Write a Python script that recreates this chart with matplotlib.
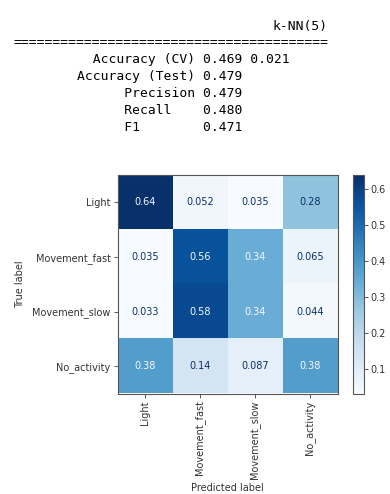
import matplotlib
matplotlib.use("Agg")
import matplotlib.pyplot as plt
import numpy as np

# ---- summary metrics printed above the matrix ----
model_name = "k-NN(5)"
metric_labels = ["  Accuracy (CV)", "Accuracy (Test)", "      Precision",
                 "      Recall   ", "      F1       "]
metric_values = [[0.469, 0.021], [0.479], [0.479], [0.480], [0.471]]

# ---- normalised confusion matrix ----
classes = ["Light", "Movement_fast", "Movement_slow", "No_activity"]
cm = np.array([
    [0.64, 0.052, 0.035, 0.28],
    [0.035, 0.56, 0.34, 0.065],
    [0.033, 0.58, 0.34, 0.044],
    [0.38, 0.14, 0.087, 0.38],
])

W, H = 390, 494
fig = plt.figure(figsize=(W / 100, H / 100), dpi=100)


def fx(px):
    return px / W


def fy(py):
    return 1 - py / H


# ---- monospace text block ----
mono = dict(family="DejaVu Sans Mono", fontsize=9.4, color="black", va="baseline")
fig.text(fx(272), fy(30), model_name, ha="left", **mono)
fig.text(fx(14), fy(46), "=" * 40, ha="left", **mono)
for i, (lab, vals) in enumerate(zip(metric_labels, metric_values)):
    line = lab + " " + " ".join(f"{v:.3f}" for v in vals)
    fig.text(fx(77), fy(63 + 17 * i), line, ha="left", **mono)

# ---- confusion matrix heatmap ----
left, right, top, bottom = 117.5, 337.5, 175, 393.5
ax = fig.add_axes([fx(left), fy(bottom), fx(right - left), (bottom - top) / H])
cmap = plt.get_cmap("Blues")
im = ax.imshow(cm, cmap=cmap, aspect="auto", interpolation="nearest")

thresh = (cm.max() + cm.min()) / 2
for i in range(cm.shape[0]):
    for j in range(cm.shape[1]):
        col = cmap(0.0) if cm[i, j] > thresh else cmap(1.0)
        ax.text(j, i, f"{cm[i, j]:.2g}", ha="center", va="center",
                color=col, fontsize=7)

lab_col = "#333333"
ax.set_xticks(range(len(classes)))
ax.set_yticks(range(len(classes)))
ax.set_xticklabels(classes, rotation=90, fontsize=7, color=lab_col)
ax.set_yticklabels(classes, fontsize=7, color=lab_col)
ax.tick_params(length=3, width=0.7, color="#555555", pad=2)
for sp in ax.spines.values():
    sp.set_color("#555555")
    sp.set_linewidth(0.8)

fig.text(fx(20), fy(284), "True label", rotation=90, ha="center", va="center",
         fontsize=7, color=lab_col)
fig.text(fx(227.5), fy(488), "Predicted label", ha="center", va="center",
         fontsize=7, color=lab_col)

# ---- colorbar ----
cax = fig.add_axes([fx(353), fy(bottom), fx(10.5), (bottom - top) / H])
cb = fig.colorbar(im, cax=cax)
cb.set_ticks([0.1, 0.2, 0.3, 0.4, 0.5, 0.6])
cb.ax.tick_params(labelsize=7, length=3, width=0.7, color="#555555",
                  labelcolor=lab_col, pad=2)
cb.outline.set_edgecolor("#555555")
cb.outline.set_linewidth(0.8)

fig.savefig("out.png", dpi=100)
